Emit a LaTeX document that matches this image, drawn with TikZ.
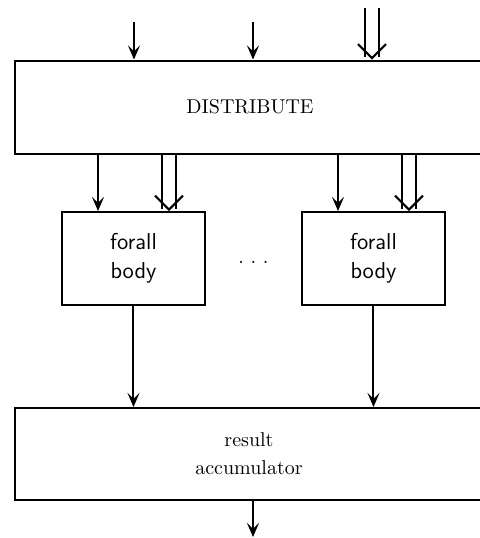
\documentclass[tikz,border=0pt]{standalone}
\usepackage{tikz}
\usetikzlibrary{arrows.meta, positioning, calc}
\tikzset{
    stageblock/.style={
        rectangle, draw=black, line width=1pt,
        minimum width=235pt, minimum height=46.5pt,
        font=\fontsize{10}{14}\selectfont, align=center, inner sep=0pt
    },
    bodyblock/.style={
        rectangle, draw=black, line width=1pt,
        minimum width=71.5pt, minimum height=46.5pt,
        font=\sffamily\fontsize{11.5}{14.5}\selectfont, align=center
    },
    valarrow/.style={
        -{Stealth[length=7pt, width=6pt, inset=3pt]}, line width=1pt
    },
    streamarrow/.style={
        -{Straight Barb[length=7pt, width=14pt, line width=1pt]},
        double, double distance=6pt, line width=0.9pt
    },
}

\begin{document}
\begin{tikzpicture}[x=0.5pt, y=-0.5pt]
    \useasboundingbox (0,0) rectangle (480,538);
    \clip (0,0) rectangle (480,538);

    % ── Distribute stage ──
    \node[stageblock] (dist) at (250,107) {DISTRIBUTE};
    \coordinate (inA) at (134,22);
    \coordinate (inB) at (253,22);
    \coordinate (inC) at (372,8);
    \draw[valarrow] (inA) -- (inA |- dist.north);
    \draw[valarrow] (inB) -- (inB |- dist.north);
    \draw[streamarrow] (inC) -- (inC |- dist.north);

    % ── forall bodies ──
    \node[bodyblock] (body1) at (133.5,258.5) {forall\\body};
    \node[bodyblock, right=47.5pt of body1] (body2) {forall\\body};
    \node[font=\fontsize{10}{12}\selectfont] (dots) at ($(body1.east)!0.5!(body2.west)+(0,4)$) {.\ .\ .};
    \foreach \b in {body1, body2} {
        \path (\b.north west) ++(37,0) coordinate (v\b) ++(71,0) coordinate (s\b);
        \draw[valarrow] (v\b |- dist.south) -- (v\b);
        \draw[streamarrow] (s\b |- dist.south) -- (s\b);
    }

    % ── Result accumulator ──
    \node[stageblock, minimum width=234pt, minimum height=46pt] (acc) at (249,454) {result\\accumulator};
    \draw[valarrow] (body1.south) -- (body1.south |- acc.north);
    \draw[valarrow] (body2.south) -- (body2.south |- acc.north);
    \coordinate (out) at (253,537);
    \draw[valarrow] (out |- acc.south) -- (out);

\end{tikzpicture}
\end{document}
